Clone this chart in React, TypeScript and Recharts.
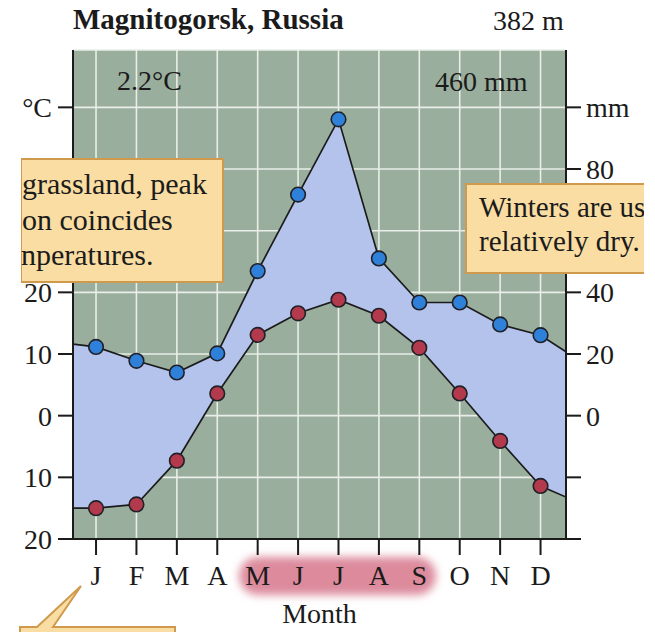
import { ComposedChart, Area, Line, XAxis, YAxis, CartesianGrid, Label } from 'recharts'

const months = ['J', 'F', 'M', 'A', 'M', 'J', 'J', 'A', 'S', 'O', 'N', 'D']
const temperature = [-15.0, -14.4, -7.3, 3.6, 13.1, 16.6, 18.8, 16.2, 11.0, 3.6, -4.1, -11.4]
const precipitation = [22.3, 17.8, 14.0, 20.2, 46.9, 71.7, 96.1, 51.0, 36.7, 36.7, 29.6, 26.1]

// where the two lines run out of the frame on the left and right
const edgeMonth = [0.43, 12.63]
const edgeTemperature = [-15.0, -13.2]
const edgePrecipitation = [23.2, 20.7]

const tempTicks = [-20, -10, 0, 10, 20, 30, 40, 50]
const mmTicks = [-40, -20, 0, 20, 40, 60, 80, 100]

const INK = '#1b1b1b'
const SERIF = '"Liberation Serif", "DejaVu Serif", serif'

type Row = { m: number; temp: number; rain: number; edge: boolean; band?: number[] }

const rows: Row[] = [
  { m: edgeMonth[0], temp: edgeTemperature[0], rain: edgePrecipitation[0], edge: true },
  ...months.map((_, i) => ({ m: i + 1, temp: temperature[i], rain: precipitation[i], edge: false })),
  { m: edgeMonth[1], temp: edgeTemperature[1], rain: edgePrecipitation[1], edge: true },
].map((r) => ({ ...r, band: [r.temp, r.rain / 2] })) // 1 °C on the left = 2 mm on the right

const dot = (fill: string) => (p: any) =>
  p.payload.edge ? (
    <g key={`d${p.index}`} />
  ) : (
    <circle key={`d${p.index}`} cx={p.cx} cy={p.cy} r={7.3} fill={fill} stroke="#1f2028" strokeWidth={1.6} />
  )

const tickStyle = { fontSize: 28, fill: INK, fontFamily: SERIF }
const lineStyle = { stroke: INK, strokeWidth: 2 }

function Callouts() {
  const box = { fill: '#fadda2', stroke: '#cf9a4e', strokeWidth: 2 }
  return (
    <svg width={655} height={632} style={{ position: 'absolute', left: 0, top: 0, pointerEvents: 'none' }}>
      <defs>
        <clipPath id="leftCut">
          <rect x={21} y={0} width={300} height={632} />
        </clipPath>
        <clipPath id="rightCut">
          <rect x={0} y={0} width={644} height={632} />
        </clipPath>
      </defs>
      <g fontFamily={SERIF} fill={INK}>
        <text x={73} y={29} fontSize={29} fontWeight="bold">Magnitogorsk, Russia</text>
        <text x={493} y={30} fontSize={28}>382 m</text>
        <text x={117} y={90} fontSize={28}>2.2°C</text>
        <text x={435} y={91} fontSize={28}>460 mm</text>
      </g>

      <g clipPath="url(#leftCut)">
        <rect x={21} y={159} width={202} height={123} {...box} />
        <g fontFamily={SERIF} fontSize={30} fill={INK}>
          <text x={22} y={194}>grassland, peak</text>
          <text x={22} y={230}>on coincides</text>
          <text x={21} y={265}>nperatures.</text>
        </g>
      </g>

      <g clipPath="url(#rightCut)">
        <rect x={466} y={184} width={200} height={89} {...box} />
        <g fontFamily={SERIF} fontSize={29} fill={INK}>
          <text x={479} y={217}>Winters are usually</text>
          <text x={479} y={251}>relatively dry.</text>
        </g>
      </g>

      <path d="M20,627 L37,627 L81,586 L53,627 L175,627 L175,640 L20,640 Z" {...box} />
    </svg>
  )
}

export default function App() {
  return (
    <div
      style={{
        position: 'fixed',
        left: 0,
        top: 0,
        width: 655,
        height: 632,
        overflow: 'hidden',
        background: '#fff',
        fontFamily: SERIF,
      }}
    >
      {/* pink wash behind the growing-season months */}
      <svg width={655} height={632} style={{ position: 'absolute', left: 0, top: 0 }}>
        <defs>
          <filter id="soft" x="-20%" y="-60%" width="140%" height="220%">
            <feGaussianBlur stdDeviation={4} />
          </filter>
        </defs>
        <rect x={239} y={557} width={197} height={38} rx={19} fill="#dc8a9c" filter="url(#soft)" />
      </svg>

      <div style={{ position: 'absolute', left: 0, top: 0 }}>
        <ComposedChart width={655} height={632} data={rows} margin={{ top: 50, right: 0, bottom: 0, left: 0 }}>
          <CartesianGrid yAxisId="c" fill="#9aae9d" fillOpacity={1} stroke="#e9eee9" strokeWidth={1.6} />
          <XAxis
            type="number"
            dataKey="m"
            domain={[edgeMonth[0], edgeMonth[1]]}
            ticks={months.map((_, i) => i + 1)}
            tickFormatter={(v) => months[v - 1]}
            allowDataOverflow
            height={93}
            tick={tickStyle}
            tickSize={16}
            tickMargin={10}
            tickLine={lineStyle}
            axisLine={lineStyle}
          >
            <Label value="Month" position="insideBottom" offset={9} fontSize={28} fill={INK} fontFamily={SERIF} />
          </XAxis>
          <YAxis
            yAxisId="c"
            orientation="left"
            width={73}
            domain={[-20, 59.3]}
            ticks={tempTicks}
            tickFormatter={(v) => (v === 50 ? '°C' : String(Math.abs(v)))}
            allowDataOverflow
            tick={tickStyle}
            tickSize={15}
            tickMargin={6}
            tickLine={lineStyle}
            axisLine={lineStyle}
          />
          <YAxis
            yAxisId="mm"
            orientation="right"
            width={89}
            domain={[-40, 118.6]}
            ticks={mmTicks}
            tickFormatter={(v) => (v === 100 ? 'mm' : v < 0 ? '' : String(v))}
            allowDataOverflow
            tick={tickStyle}
            tickSize={15}
            tickMargin={5}
            tickLine={lineStyle}
            axisLine={lineStyle}
          />
          <Area
            yAxisId="c"
            type="linear"
            dataKey="band"
            stroke="none"
            fill="#b4c3eb"
            fillOpacity={1}
            isAnimationActive={false}
          />
          <Line
            yAxisId="c"
            type="linear"
            dataKey="temp"
            stroke={INK}
            strokeWidth={1.7}
            dot={dot('#b3394c')}
            activeDot={false}
            isAnimationActive={false}
          />
          <Line
            yAxisId="mm"
            type="linear"
            dataKey="rain"
            stroke={INK}
            strokeWidth={1.7}
            dot={dot('#2f80d8')}
            activeDot={false}
            isAnimationActive={false}
          />
        </ComposedChart>
      </div>

      <Callouts />
    </div>
  )
}
